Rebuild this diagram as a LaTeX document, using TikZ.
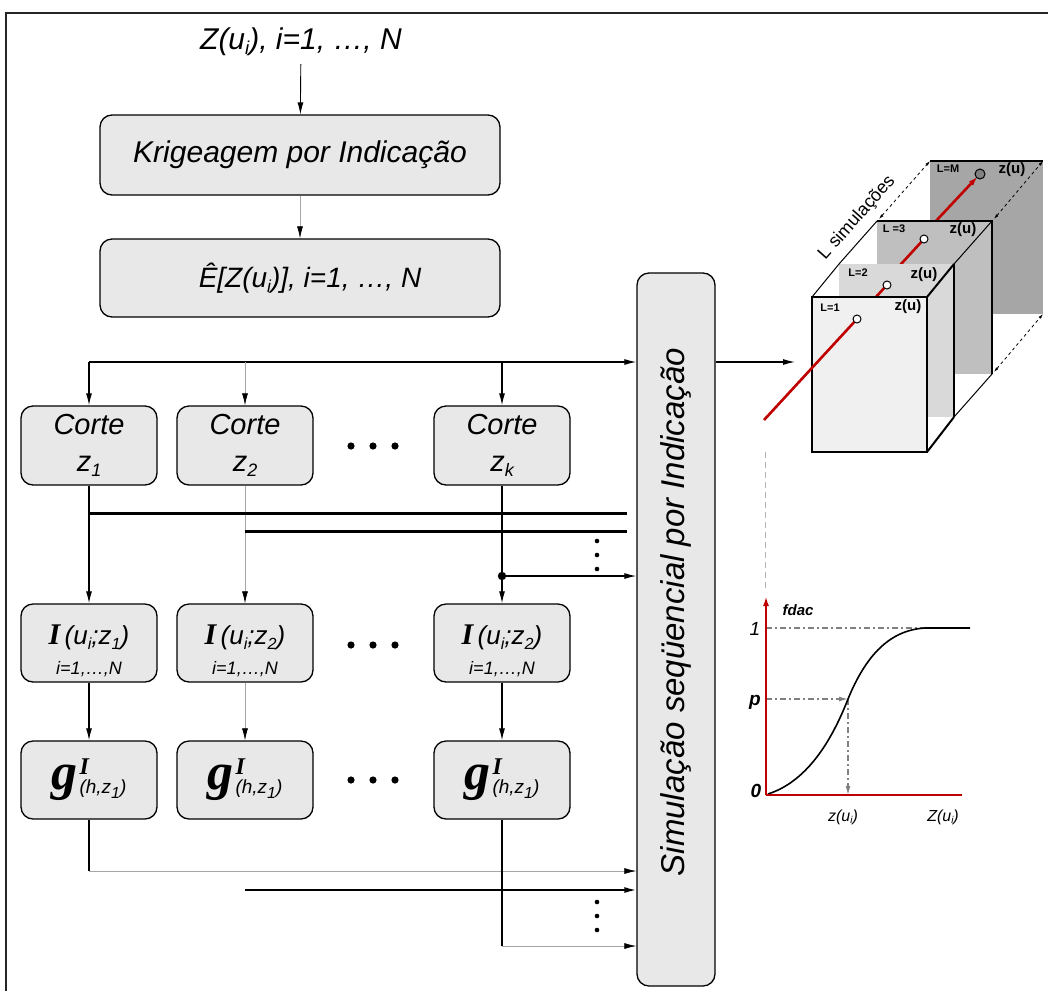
\documentclass[tikz,border=0pt]{standalone}
\usepackage{fontspec}
\setmainfont{Liberation Sans}
\newfontfamily\tnr{Liberation Serif}
\usetikzlibrary{arrows.meta,calc}
\definecolor{boxgray}{HTML}{E8E8E8}
\definecolor{dred}{HTML}{C00000}
\definecolor{pone}{HTML}{F0F0F0}
\definecolor{ptwo}{HTML}{D9D9D9}
\definecolor{pthree}{HTML}{BFBFBF}
\definecolor{pm}{HTML}{A6A6A6}
\newcommand\bsi[1]{{\tnr\bfseries\itshape #1}}
\newcommand\lowsub[1]{\raisebox{-0.17em}{\scalebox{0.62}{#1}}}
\begin{document}
\begin{tikzpicture}[x=1pt,y=-1pt,
  box/.style={draw=black,line width=1.3pt,fill=boxgray,rounded corners=12pt,inner sep=0pt},
  ln/.style={draw=black,line width=1.2pt},
  lnthin/.style={draw=gray!70,line width=0.7pt},
  tip/.style={-{Latex[length=12pt,width=6pt,color=black]}},
  bar/.style={draw=black,line width=3pt},
  txt/.style={font=\fontsize{30}{32}\selectfont\itshape,inner sep=0pt},
  cortebox/.style={box,minimum width=136pt,minimum height=79pt,align=center,
    font=\fontsize{29}{37}\selectfont\itshape},
  ibox/.style={box,minimum width=136pt,minimum height=78pt},
  itext/.style={align=center,inner sep=0pt,font=\fontsize{26}{30}\selectfont\itshape},
  gbox/.style={box,minimum width=136pt,minimum height=78pt,
    font=\fontsize{19}{19}\selectfont\itshape},
  cubelbl/.style={font=\bfseries\fontsize{11}{11}\selectfont,inner sep=0pt},
  cubez/.style={font=\bfseries\fontsize{15}{15}\selectfont,inner sep=0pt},
  redln/.style={draw=dred,line width=2.6pt},
  axis/.style={draw=dred,line width=2.2pt},
  guide/.style={draw=gray,line width=1.2pt,dash pattern=on 6pt off 3pt on 2pt off 3pt},
  ringmark/.style={draw=black,fill=white,line width=1pt},
  chartlbl/.style={font=\fontsize{16}{16}\selectfont\itshape,inner sep=0pt}]
\useasboundingbox (0,0) rectangle (1048,991);

% outer frame (top and left edges)
\draw[line width=2pt,black!85] (6,991) -- (6,13) -- (1048,13);

% ---------- upper chain ----------
\node[txt] (zin) at (301,42) {Z(u\lowsub{i}), i=1, …, N};
\node[box,minimum width=400pt,minimum height=80pt,font=\fontsize{30}{32}\selectfont\itshape]
  (krig) at (300,155) {Krigeagem por Indicação};
\node[box,minimum width=400pt,minimum height=78pt,font=\fontsize{28}{32}\selectfont\itshape]
  (ehat) at (300,278) {\hspace{20pt}Ê[Z(u\lowsub{i})], i=1, …, N};
\draw[ln,line width=0.9pt,tip,shorten <=8pt] (zin) -- (krig);
\draw[lnthin,tip] (krig) -- (ehat);

% ---------- sequential simulation block ----------
\node[box,minimum width=78pt,minimum height=713pt] (sim) at (676,629.5) {};
\node[rotate=90,font=\fontsize{33}{35}\selectfont\itshape,inner sep=0pt]
  (simtxt) at (676,612) {Simulação seqüencial por Indicação};

% ---------- thresholds ----------
\node[cortebox] (c1) at (89,445.5) {Corte\\z\lowsub{1}};
\node[cortebox] (c2) at (245,445.5) {Corte\\z\lowsub{2}};
\node[cortebox] (ck) at (502,445.5) {Corte\\z\lowsub{k}};

% indicator transforms
\newcommand\itxt[1]{\bsi{\fontsize{30}{30}\selectfont I}\,(u\lowsub{i};z\lowsub{#1})\\[0pt]{\fontsize{18}{20}\selectfont i=1,…,N}}
\node[ibox] (i1) at (89,643) {};
\node[ibox] (i2) at (245,643) {};
\node[ibox] (ik) at (502,643) {};
\node[itext] (i1t) at ($(i1)+(0,8)$) {\itxt{1}};
\node[itext] (i2t) at ($(i2)+(0,8)$) {\itxt{2}};
\node[itext] (ikt) at ($(ik)+(0,8)$) {\itxt{2}};

% indicator variograms
\newcommand\gvario{\bsi{\fontsize{52}{52}\selectfont g}\hspace{2pt}\rlap{\raisebox{15pt}{\bsi{\fontsize{24}{24}\selectfont I}}}\raisebox{-4pt}{(h,z\raisebox{-5pt}{\fontsize{16}{16}\selectfont 1})}}
\node[gbox] (g1) at (89,780) {\gvario};
\node[gbox] (g2) at (245,780) {\gvario};
\node[gbox] (gk) at (502,780) {\gvario};

% ellipsis between columns
\foreach \y in {446,645,780}
  \foreach \x in {351,373,395}
    \fill (\x,\y) circle (3.6);

% distribution line feeding the thresholds and the simulation
\coordinate (t1) at (89,362);
\coordinate (t2) at (245,362);
\coordinate (tk) at (502,362);
\draw[ln] (t1) -- (tk);
\draw[ln,tip] (tk) -- (tk -| sim.west);
\draw[ln,tip] (t1) -- (c1);
\draw[lnthin,tip] (t2) -- (c2);
\draw[ln,tip] (tk) -- (ck);

% thresholds to indicator transforms
\draw[ln,tip] (c1) -- (i1);
\draw[lnthin,tip] (c2) -- (i2);
\draw[ln,tip] (ck) -- (ik);

% threshold buses
\coordinate (h1) at (627,513);
\coordinate (h2) at (627,531);
\draw[bar] (c1.south |- h1) -- (h1);
\draw[bar] (c2.south |- h2) -- (h2);
\foreach \y in {541,555,569} \fill (597,\y) circle (2.3);
\coordinate (jk) at (502,576);
\fill (jk) circle (4.2);
\draw[ln,tip] (jk) -- (jk -| sim.west);

% indicator transforms to variograms
\draw[ln,tip] (i1) -- (g1);
\draw[lnthin,tip] (i2) -- (g2);
\draw[ln,tip] (ik) -- (gk);

% variograms to the simulation
\coordinate (b1) at (89,871);
\coordinate (b2) at (245,890);
\coordinate (bk) at (502,946);
\draw[ln] (g1) -- (b1);
\draw[lnthin,tip] (b1) -- (b1 -| sim.west);
\draw[ln,line width=1.6pt,tip] (b2) -- (b2 -| sim.west);
\draw[ln] (gk) -- (bk);
\draw[lnthin,tip] (bk) -- (bk -| sim.west);
\foreach \y in {902,916,930} \fill (597,\y) circle (2.3);

% ---------- stack of realisations ----------
\coordinate (cubein) at (795,362);
\draw[ln,tip] (sim.east |- t1) -- (cubein);

% panel L=M
\fill[pm] (930,161) rectangle (1043,314);
\draw[black,line width=1.6pt] (930,161) -- (1043,161);
\draw[redln,-{Latex[length=9pt,width=6pt]},shorten >=4pt] (920,238) -- (980,174);
\filldraw[draw=black,fill=gray,line width=1pt] (980,174) circle (5);
\node[cubelbl] (lm) at (948,169) {L=M};
\node[cubez] (zm) at (1012,170) {z(u)};

% panel L=3
\fill[pthree] (877,221) rectangle (992,374);
\draw[black,line width=1.6pt] (877,221) -- (992,221) -- (992,374);
\draw[redln] (880,287) -- (924,239);
\draw[ringmark] (924,239) circle (4);
\node[cubelbl] (l3) at (894,229) {L =3};
\node[cubez] (z3) at (963,230) {z(u)};

% panel L=2
\fill[ptwo] (839,264) rectangle (954,417);
\draw[black,line width=1.6pt] (954,264) -- (954,417);
\draw[redln] (850,325) -- (887,285);
\draw[ringmark] (887,285) circle (4);
\node[cubelbl] (l2) at (858,273) {L=2};
\node[cubez] (z2u) at (924,275) {z(u)};

% edges joining the panels
\draw[black,line width=1pt] (839,264) -- (877,221);
\draw[black,line width=1pt] (954,264) -- (992,221);
\draw[black,line width=1pt] (954,417) -- (992,374);
\draw[black,line width=1pt] (812,297) -- (839,264);
\draw[black,line width=2pt] (927,297) -- (954,264);
\draw[black,line width=2pt] (927,452) -- (954,417);
\draw[black,line width=0.8pt,dashed,{Latex[length=5pt,width=3pt]}-{Latex[length=5pt,width=3pt]}] (879,219) -- (930,161);
\draw[black,line width=0.8pt,dashed,{Latex[length=5pt,width=3pt]}-{Latex[length=5pt,width=3pt]}] (994,219) -- (1043,161);
\draw[black,line width=0.8pt,dashed,{Latex[length=5pt,width=3pt]}-{Latex[length=5pt,width=3pt]}] (994,372) -- (1043,314);
\node[rotate=48.5,font=\fontsize{18}{18}\selectfont,inner sep=0pt] (lsim) at (857,218) {L\hspace{6pt}simulações};

% panel L=1
\filldraw[fill=pone,draw=black,line width=2pt] (812,297) rectangle (927,452);
\coordinate (redstart) at (764,420);
\draw[redln] (redstart) -- (857,319);
\draw[ringmark] (857,319) circle (4);
\node[cubelbl] (l1) at (830,308) {L=1};
\node[cubez] (z1u) at (908,307) {z(u)};

% link from the realisation to the distribution
\coordinate (linktop) at (765,452);
\coordinate (linkbot) at (765,588);
\draw[gray!60,line width=0.8pt,dash pattern=on 6pt off 4pt] (linktop) -- (linkbot);

% ---------- cumulative distribution ----------
\coordinate (o) at (766,795);
\coordinate (ytop) at (766,596);
\coordinate (xend) at (962,795);
\coordinate (pz) at (848,699);
\draw[guide] (766,628) -- (943,628);
\draw[guide,-{Latex[length=9pt,width=5pt]}] (o |- pz) -- (pz);
\draw[guide,-{Latex[length=9pt,width=5pt]}] (pz) -- (pz |- o);
\draw[black,line width=1.6pt] (768,794) .. controls (805,782) and (830,745) .. (pz)
  .. controls (866,655) and (890,630) .. (925,628) -- (970,628);
\draw[axis,-{Latex[length=10pt,width=6pt]}] (o) -- (ytop);
\draw[axis] (o) -- (xend);
\node[font=\bfseries\itshape\fontsize{15}{15}\selectfont,inner sep=0pt] (fdac) at (798,610) {fdac};
\node[chartlbl,font=\fontsize{19}{19}\selectfont\itshape] (one) at (755,629) {1};
\node[chartlbl,font=\bfseries\itshape\fontsize{19}{19}\selectfont] (pl) at (755,702) {p};
\node[chartlbl,font=\bfseries\itshape\fontsize{19}{19}\selectfont] (zero) at (756,791) {0};
\node[chartlbl] (zx) at (843,817) {z(u\lowsub{i})};
\node[chartlbl] (zX) at (943,817) {Z(u\lowsub{i})};
\end{tikzpicture}
\end{document}
